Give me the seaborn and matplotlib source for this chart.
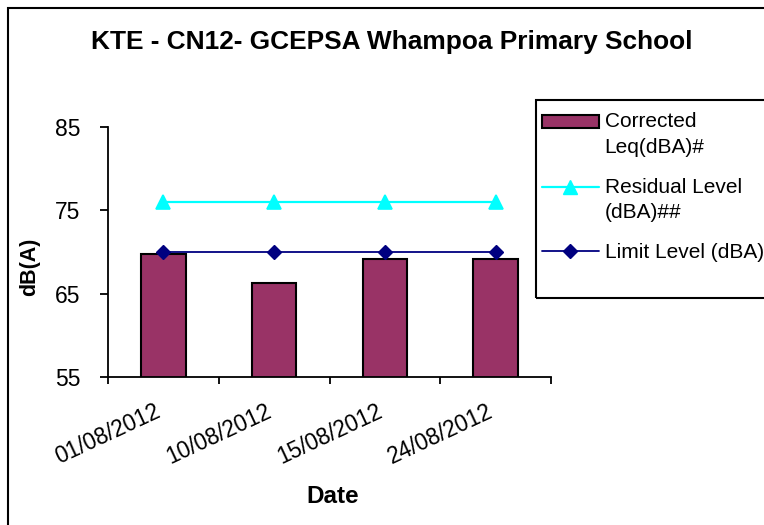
import matplotlib
matplotlib.use("Agg")
import matplotlib.pyplot as plt
import seaborn as sns
import pandas as pd
from matplotlib.patches import Rectangle, Patch
from matplotlib.lines import Line2D
from matplotlib.legend_handler import HandlerPatch, HandlerLine2D
from matplotlib.transforms import Affine2D, ScaledTranslation

dates = ["01/08/2012", "10/08/2012", "15/08/2012", "24/08/2012"]
corrected_leq = [69.8, 66.3, 69.2, 69.2]
residual_level = [76, 76, 76, 76]
limit_level = [70, 70, 70, 70]
yticks = [55, 65, 75, 85]

title = "KTE - CN12- GCEPSA Whampoa Primary School"
legend_labels = ["Corrected\nLeq(dBA)#", "Residual Level\n(dBA)##", "Limit Level (dBA)"]

df = pd.DataFrame({"date": dates, "corrected": corrected_leq,
                   "residual": residual_level, "limit": limit_level})

sns.set_theme(style="white")
plt.rcParams["font.family"] = ["Liberation Sans", "DejaVu Sans"]
for k in ["text.color", "axes.labelcolor", "xtick.color", "ytick.color"]:
    plt.rcParams[k] = "black"

W, H = 764, 525
fig = plt.figure(figsize=(W / 100, H / 100), dpi=100)
ax = fig.add_axes([108 / W, 1 - 377 / H, 443 / W, 250 / H])

bar_color = "#993366"
sns.barplot(data=df, x="date", y="corrected", color=bar_color, width=0.4,
            edgecolor="black", linewidth=1.5, saturation=1, ax=ax, errorbar=None)
sns.pointplot(data=df, x="date", y="residual", color="#00FFFF", marker="^",
              markersize=9.5, linewidth=1.6, errorbar=None, ax=ax)
sns.pointplot(data=df, x="date", y="limit", color="#000080", marker="D",
              markersize=7.5, linewidth=1.3, errorbar=None, ax=ax)

ax.set_xlim(-0.5, len(dates) - 0.5)
ax.set_ylim(55, 85)
ax.set_yticks(yticks)
ax.set_yticklabels([str(v) for v in yticks], fontsize=16.5, color="black")
ax.set_xticks(range(len(dates)))
ax.set_xticklabels(dates, rotation=25, ha="right", va="center",
                   rotation_mode="anchor", fontsize=16.3, color="black")
ax.set_xticks([i - 0.5 for i in range(len(dates) + 1)], minor=True)
ax.tick_params(axis="x", which="major", length=0, pad=24)
ax.tick_params(axis="x", which="minor", length=5, width=1.3, direction="out",
               bottom=True, color="black")
ax.tick_params(axis="y", which="major", length=6, width=1.3, direction="out",
               left=True, pad=14, color="black")
ax.set_xlabel("")
ax.set_ylabel("")
for s in ["top", "right"]:
    ax.spines[s].set_visible(False)
for s in ["left", "bottom"]:
    ax.spines[s].set_color("black")
    ax.spines[s].set_linewidth(1.3)
ax.grid(False)
shift_left = ScaledTranslation(-4 / 100, 0, fig.dpi_scale_trans)
for lbl in ax.get_xticklabels():
    lbl.set_transform(lbl.get_transform() + shift_left)

fig.text(392 / W, 1 - 49 / H, title, ha="center", va="baseline",
         fontsize=18.9, fontweight="bold", color="black")
fig.text(333 / W, 1 - 503 / H, "Date", ha="center", va="baseline",
         fontsize=17.5, fontweight="bold", color="black")
fig.text(29.5 / W, 1 - 267 / H, "dB(A)", ha="center", va="center",
         rotation=90, fontsize=15.5, fontweight="bold", color="black")

# outer chart-area border
fig.patches.append(Rectangle((8 / W, -0.1), 1.2, 1.1 - 8 / H,
                             transform=fig.transFigure, fill=False,
                             edgecolor="black", linewidth=1.5))
# legend box
fig.patches.append(Rectangle((536 / W, 1 - 298 / H), 300 / W, 198 / H,
                             transform=fig.transFigure, fill=False,
                             edgecolor="black", linewidth=1.5))


class _Shift:
    def __init__(self, shift=0.0, **kw):
        super().__init__(**kw)
        self.shift = shift

    def create_artists(self, legend, orig_handle, xdescent, ydescent,
                       width, height, fontsize, trans):
        trans = Affine2D().translate(0, self.shift) + trans
        return super().create_artists(legend, orig_handle, xdescent, ydescent,
                                      width, height, fontsize, trans)


class ShiftPatch(_Shift, HandlerPatch):
    pass


class ShiftLine(_Shift, HandlerLine2D):
    pass


handles = [
    Patch(facecolor=bar_color, edgecolor="black", linewidth=1.5),
    Line2D([], [], color="#00FFFF", marker="^", markersize=9.5, linewidth=1.6),
    Line2D([], [], color="#000080", marker="D", markersize=7.5, linewidth=1.3),
]
half_line = 9.5
leg = fig.legend(handles, legend_labels, loc="upper left",
                 bbox_to_anchor=(536 / W, 1 - 106 / H), frameon=False,
                 fontsize=15, handlelength=2.7, handleheight=0.6, handletextpad=0.3,
                 labelspacing=1.0, borderaxespad=0, borderpad=0.3,
                 handler_map={handles[0]: ShiftPatch(shift=half_line),
                              handles[1]: ShiftLine(shift=half_line),
                              handles[2]: ShiftLine(shift=0.0)})
for t in leg.get_texts():
    t.set_linespacing(1.43)
    t.set_color("black")

fig.savefig("out.png", dpi=100)
